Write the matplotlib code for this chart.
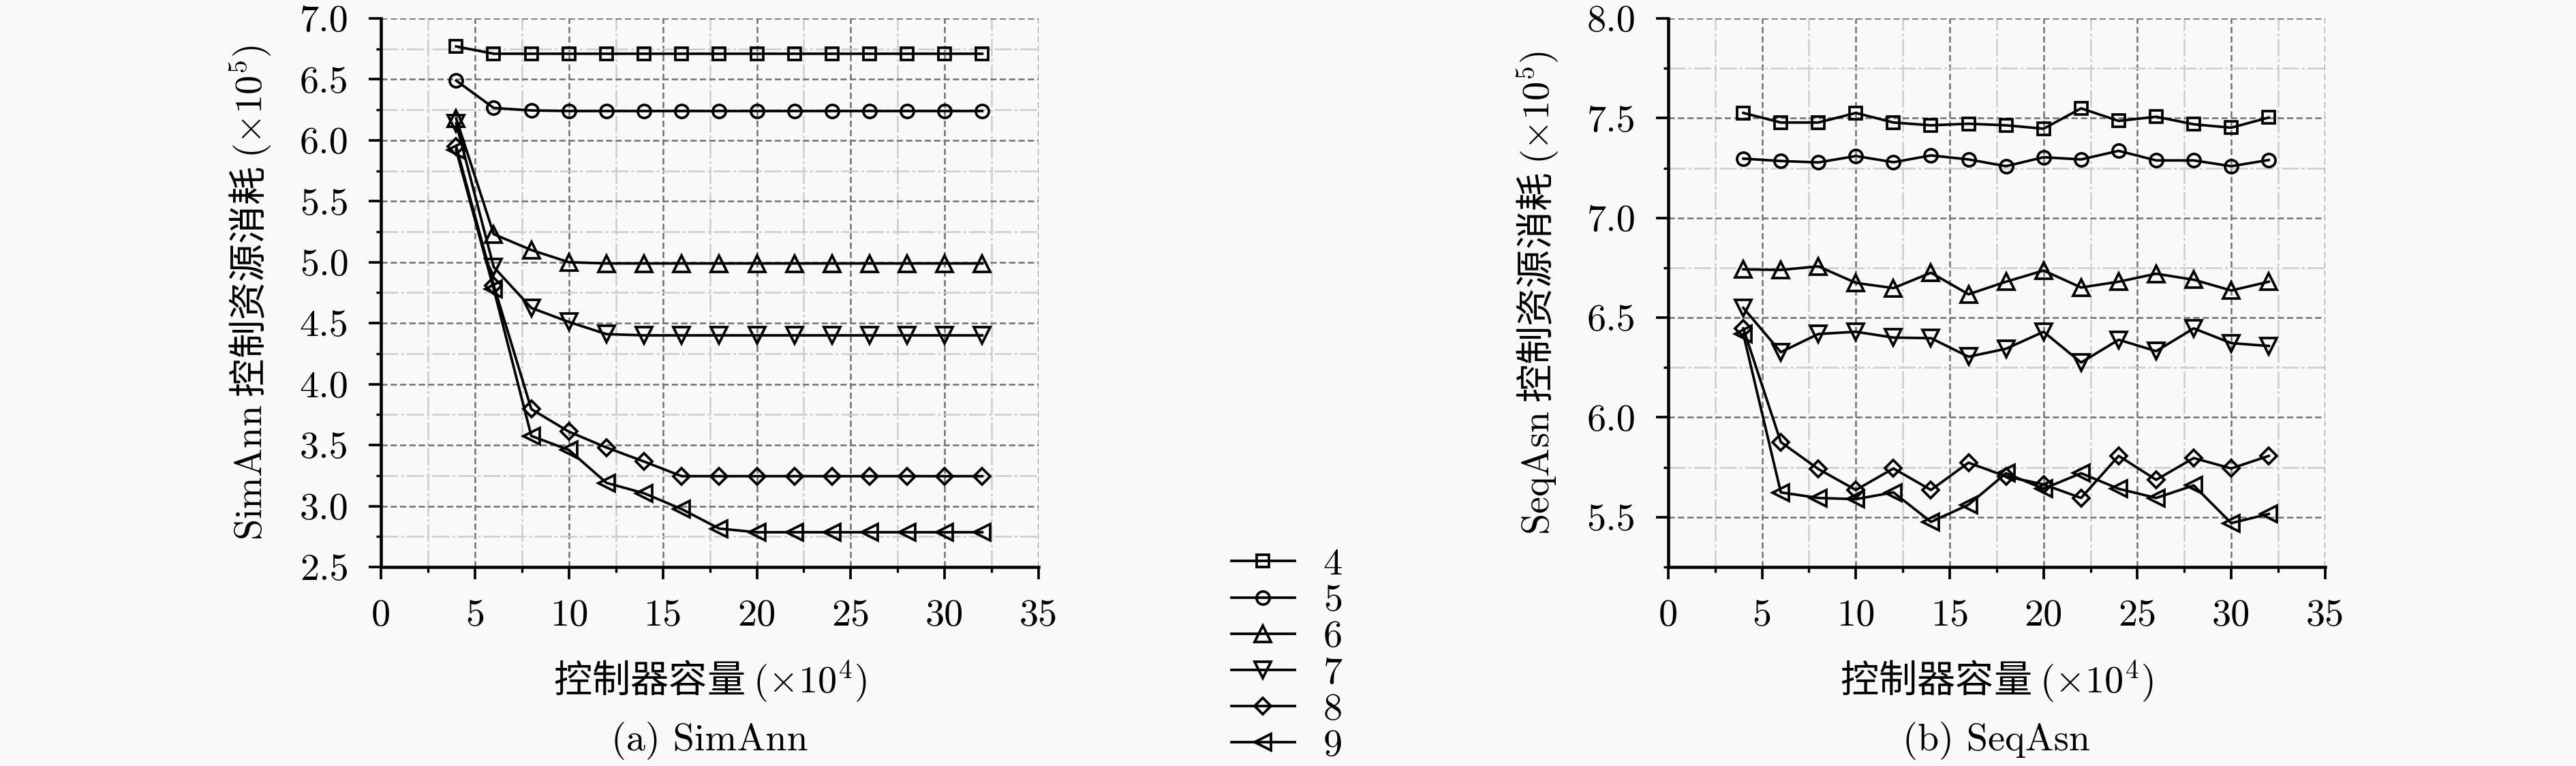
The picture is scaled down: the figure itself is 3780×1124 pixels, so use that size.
import matplotlib
matplotlib.use('Agg')
import matplotlib.pyplot as plt
from matplotlib.ticker import MultipleLocator, FixedLocator, FixedFormatter

plt.rcParams['font.family'] = ['cmr10', 'DejaVu Sans']
plt.rcParams['mathtext.fontset'] = 'cm'
plt.rcParams['axes.unicode_minus'] = False
plt.rcParams['lines.scale_dashes'] = False

# controller capacity (x10^4)
capacity = [4, 6, 8, 10, 12, 14, 16, 18, 20, 22, 24, 26, 28, 30, 32]
series_names = ['4', '5', '6', '7', '8', '9']
markers = ['s', 'o', '^', 'v', 'D', '<']
msizes = [4.3, 4.6, 5.6, 5.6, 4.2, 5.6]

# SimAnn control resource consumption (x10^5)
simann_4 = [6.77, 6.71, 6.71, 6.71, 6.71, 6.71, 6.71, 6.71, 6.71, 6.71, 6.71, 6.71, 6.71, 6.71, 6.71]
simann_5 = [6.49, 6.265, 6.245, 6.24, 6.24, 6.24, 6.24, 6.24, 6.24, 6.24, 6.24, 6.24, 6.24, 6.24, 6.24]
simann_6 = [6.18, 5.23, 5.10, 5.00, 4.99, 4.99, 4.99, 4.99, 4.99, 4.99, 4.99, 4.99, 4.99, 4.99, 4.99]
simann_7 = [6.14, 4.96, 4.625, 4.51, 4.41, 4.40, 4.40, 4.40, 4.40, 4.40, 4.40, 4.40, 4.40, 4.40, 4.40]
simann_8 = [5.95, 4.81, 3.795, 3.61, 3.48, 3.365, 3.245, 3.245, 3.245, 3.245, 3.245, 3.245, 3.245, 3.245, 3.245]
simann_9 = [5.92, 4.78, 3.575, 3.46, 3.19, 3.105, 2.975, 2.815, 2.785, 2.785, 2.785, 2.785, 2.785, 2.785, 2.785]

# SeqAsn control resource consumption (x10^5)
seqasn_4 = [7.526, 7.478, 7.478, 7.526, 7.478, 7.464, 7.472, 7.464, 7.447, 7.549, 7.486, 7.507, 7.469, 7.452, 7.503]
seqasn_5 = [7.297, 7.285, 7.278, 7.31, 7.279, 7.313, 7.293, 7.259, 7.304, 7.293, 7.336, 7.288, 7.288, 7.259, 7.29]
seqasn_6 = [6.742, 6.739, 6.757, 6.674, 6.648, 6.725, 6.617, 6.68, 6.736, 6.651, 6.68, 6.72, 6.69, 6.636, 6.68]
seqasn_7 = [6.549, 6.327, 6.418, 6.429, 6.40, 6.397, 6.304, 6.344, 6.429, 6.275, 6.389, 6.332, 6.446, 6.372, 6.358]
seqasn_8 = [6.446, 5.876, 5.741, 5.636, 5.744, 5.636, 5.773, 5.704, 5.664, 5.596, 5.807, 5.687, 5.796, 5.744, 5.807]
seqasn_9 = [6.418, 5.624, 5.596, 5.590, 5.624, 5.476, 5.562, 5.72, 5.642, 5.72, 5.642, 5.596, 5.659, 5.47, 5.516]

x_ticks = [0, 5, 10, 15, 20, 25, 30, 35]
x_ticklabels = ['0', '5', '10', '15', '20', '25', '30', '35']
simann_yticks = [2.5, 3.0, 3.5, 4.0, 4.5, 5.0, 5.5, 6.0, 6.5, 7.0]
simann_yticklabels = ['2.5', '3.0', '3.5', '4.0', '4.5', '5.0', '5.5', '6.0', '6.5', '7.0']
seqasn_yticks = [5.5, 6.0, 6.5, 7.0, 7.5, 8.0]
seqasn_yticklabels = ['5.5', '6.0', '6.5', '7.0', '7.5', '8.0']

# latin parts go through mathtext (Computer Modern), CJK through Noto
xlabel = '控制器容量 $(\\times10^4)$'
simann_ylabel = '$\\mathrm{SimAnn}$ 控制资源消耗 $(\\times10^5)$'
seqasn_ylabel = '$\\mathrm{SeqAsn}$ 控制资源消耗 $(\\times10^5)$'
cjk = ['Noto Sans CJK SC', 'DejaVu Sans']

FS = 13.5
bg = '#f9f9f9'

fig = plt.figure(figsize=(12.6, 3.7467), dpi=300, facecolor=bg)
ax1 = fig.add_axes([0.1479, 0.2598, 0.2553, 0.7162])
ax2 = fig.add_axes([0.6476, 0.2598, 0.2550, 0.7162])


def style_axes(ax, yticks, yticklabels, ylim, ylabel):
    ax.set_facecolor(bg)
    ax.set_xlim(0, 35)
    ax.set_ylim(*ylim)
    ax.xaxis.set_major_locator(FixedLocator(x_ticks))
    ax.xaxis.set_major_formatter(FixedFormatter(x_ticklabels))
    ax.xaxis.set_minor_locator(MultipleLocator(2.5))
    ax.yaxis.set_major_locator(FixedLocator(yticks))
    ax.yaxis.set_major_formatter(FixedFormatter(yticklabels))
    ax.yaxis.set_minor_locator(MultipleLocator(0.25))
    for s in ['top', 'right']:
        ax.spines[s].set_visible(False)
    for s in ['left', 'bottom']:
        ax.spines[s].set_linewidth(1.1)
    ax.tick_params(which='major', direction='out', length=4.4, width=0.9,
                   pad=7, labelsize=FS)
    ax.tick_params(which='minor', direction='out', length=1.8, width=0.8)
    ax.set_axisbelow(True)
    ax.grid(which='minor', color='#cccccc', lw=0.6, ls=(0, (6, 1, 1, 1)))
    ax.grid(which='major', color='#707070', lw=0.6, ls=(0, (2.2, 1.1)))
    ax.set_xlabel(xlabel, fontsize=FS, labelpad=9, family=cjk)
    ax.set_ylabel(ylabel, fontsize=FS, labelpad=9, family=cjk)


style_axes(ax1, simann_yticks, simann_yticklabels, (2.5, 7.0), simann_ylabel)
style_axes(ax2, seqasn_yticks, seqasn_yticklabels, (5.25, 8.0), seqasn_ylabel)

simann = [simann_4, simann_5, simann_6, simann_7, simann_8, simann_9]
seqasn = [seqasn_4, seqasn_5, seqasn_6, seqasn_7, seqasn_8, seqasn_9]

handles = []
for name, m, ms, y1, y2 in zip(series_names, markers, msizes, simann, seqasn):
    h, = ax1.plot(capacity, y1, color='black', lw=0.9, marker=m, ms=ms,
                  mfc='none', mec='black', mew=0.9, label=name)
    ax2.plot(capacity, y2, color='black', lw=0.9, marker=m, ms=ms,
             mfc='none', mec='black', mew=0.9)
    handles.append(h)

fig.legend(handles, series_names, loc='upper left', bbox_to_anchor=(0.478, 0.285),
           frameon=False, fontsize=FS, handlelength=1.65, handletextpad=0.75,
           labelspacing=0.05, borderpad=0, borderaxespad=0)

fig.text(0.2755, 0.033, '(a) SimAnn', ha='center', va='center', fontsize=FS)
fig.text(0.7751, 0.033, '(b) SeqAsn', ha='center', va='center', fontsize=FS)

fig.savefig('out.png', dpi=300, facecolor=bg)
